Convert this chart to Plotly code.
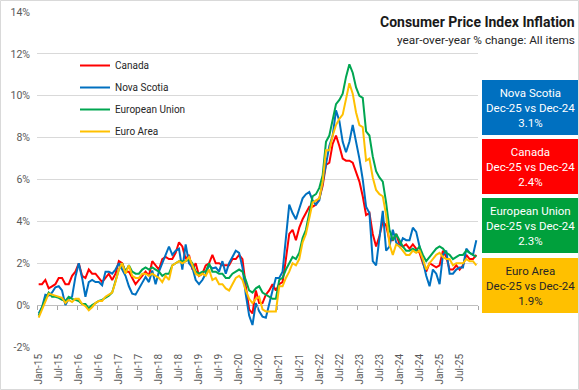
import pandas as pd
import plotly.graph_objects as go

# ---------------- data ----------------
months = pd.date_range("2015-01-01", periods=132, freq="MS").strftime("%b-%y").tolist()

canada = [
    1.0, 1.0, 1.2, 0.8, 0.9, 1.0, 1.3, 1.3, 1.0, 1.0, 1.4, 1.6,
    2.0, 1.4, 1.3, 1.7, 1.5, 1.5, 1.3, 1.1, 1.3, 1.5, 1.2, 1.5,
    2.1, 2.0, 1.6, 1.6, 1.3, 1.0, 1.2, 1.4, 1.6, 1.4, 2.1, 1.9,
    1.7, 2.2, 2.3, 2.2, 2.2, 2.5, 3.0, 2.8, 2.2, 2.4, 1.7, 2.0,
    1.4, 1.5, 1.9, 2.0, 2.4, 2.0, 2.0, 1.9, 1.9, 1.9, 2.2, 2.2,
    2.4, 2.2, 0.9, -0.2, -0.4, 0.7, 0.1, 0.1, 0.5, 0.7, 1.0, 0.7,
    1.0, 1.1, 2.2, 3.4, 3.6, 3.1, 3.7, 4.1, 4.4, 4.7, 4.7, 4.8,
    5.1, 5.7, 6.7, 6.8, 7.7, 8.1, 7.6, 7.0, 6.9, 6.9, 6.8, 6.3,
    5.9, 5.2, 4.3, 4.4, 3.4, 2.8, 3.3, 4.0, 3.8, 3.1, 3.1, 3.4,
    2.9, 2.8, 2.9, 2.7, 2.9, 2.7, 2.5, 2.0, 1.6, 2.0, 1.9, 1.8,
    1.9, 2.6, 2.3, 1.7, 1.7, 1.9, 1.7, 1.9, 2.4, 2.2, 2.2, 2.4,
]

nova_scotia = [
    -0.4, -0.1, 0.5, 0.45, 0.6, 0.85, 0.9, 0.7, 0.0, 0.3, 0.4, 1.35,
    2.0, 1.3, 0.4, 1.1, 1.2, 1.1, 1.1, 0.95, 1.6, 1.6, 1.5, 1.7,
    2.0, 1.7, 1.4, 0.9, 0.55, 0.5, 0.8, 1.1, 1.35, 1.1, 1.65, 1.0,
    1.6, 2.0, 2.4, 2.8, 2.4, 2.6, 2.7, 1.7, 2.9, 2.0, 1.8, 1.2,
    1.0, 1.2, 1.5, 1.9, 1.75, 1.8, 1.6, 2.1, 1.5, 2.0, 2.3, 2.6,
    2.5, 1.8, 0.5, -0.5, -0.95, 0.1, -0.3, -0.55, -0.6, 0.1, 0.7, 1.3,
    1.3, 1.6, 3.3, 4.8, 4.4, 4.1, 4.6, 5.1, 5.3, 5.4, 5.0, 4.8,
    5.0, 5.9, 6.8, 7.6, 8.1, 9.3, 8.8, 7.8, 7.3, 7.8, 8.6, 7.8,
    7.0, 6.0, 4.7, 4.4, 2.1, 1.9, 3.3, 4.5, 2.6, 2.8, 3.6, 3.0,
    2.8, 3.2, 3.1, 3.1, 3.7, 3.5, 2.8, 2.1, 1.4, 0.9, 1.7, 1.5,
    1.0, 2.4, 2.6, 1.5, 1.5, 1.7, 1.8, 1.8, 2.7, 2.5, 2.4, 3.1,
]

european_union = [
    -0.5, -0.1, 0.3, 0.6, 0.4, 0.4, 0.35, 0.25, 0.2, 0.4, 0.3, 0.25,
    0.2, 0.05, 0.05, -0.15, 0.0, 0.1, 0.2, 0.25, 0.35, 0.45, 0.6, 1.1,
    1.7, 2.0, 1.6, 1.9, 1.6, 1.5, 1.5, 1.7, 1.8, 1.7, 1.8, 1.7,
    1.6, 1.4, 1.5, 1.5, 1.9, 2.0, 2.1, 2.1, 2.1, 2.2, 2.0, 1.6,
    1.5, 1.6, 1.6, 2.0, 1.6, 1.6, 1.5, 1.5, 1.3, 1.3, 1.5, 1.6,
    1.7, 1.6, 1.2, 0.7, 0.6, 0.8, 0.9, 0.6, 0.5, 0.4, 0.3, 0.3,
    1.2, 1.3, 1.7, 2.0, 2.3, 2.2, 2.5, 3.2, 3.6, 4.4, 5.2, 5.3,
    5.6, 6.2, 7.8, 8.1, 8.8, 9.6, 9.8, 10.1, 10.9, 11.5, 11.1, 10.4,
    10.0, 9.9, 8.3, 8.1, 7.1, 6.4, 6.1, 5.9, 4.9, 3.6, 3.1, 3.4,
    3.1, 2.8, 2.6, 2.6, 2.7, 2.6, 2.8, 2.4, 2.1, 2.3, 2.5, 2.7,
    2.8, 2.7, 2.5, 2.4, 2.2, 2.3, 2.4, 2.4, 2.6, 2.5, 2.4, 2.3,
]

euro_area = [
    -0.6, -0.2, 0.2, 0.55, 0.5, 0.45, 0.4, 0.35, 0.1, 0.25, 0.15, 0.3,
    0.3, 0.05, -0.05, -0.25, -0.1, 0.1, 0.2, 0.2, 0.4, 0.5, 0.6, 1.1,
    1.7, 2.0, 1.5, 1.9, 1.4, 1.3, 1.3, 1.5, 1.5, 1.4, 1.5, 1.4,
    1.3, 1.1, 1.4, 1.2, 1.9, 2.0, 2.1, 2.0, 2.1, 2.3, 1.9, 1.5,
    1.4, 1.5, 1.4, 1.7, 1.2, 1.3, 1.0, 1.0, 0.8, 0.7, 1.0, 1.3,
    1.4, 1.2, 0.7, 0.3, 0.1, 0.3, 0.4, -0.2, -0.3, -0.3, -0.3, -0.3,
    0.9, 0.9, 1.3, 1.6, 2.0, 1.9, 2.2, 3.0, 3.4, 4.1, 4.9, 5.0,
    5.1, 5.9, 7.4, 7.4, 8.1, 8.6, 8.9, 9.1, 9.9, 10.6, 10.1, 9.2,
    8.6, 8.5, 6.9, 7.0, 6.1, 5.5, 5.3, 5.2, 4.3, 2.9, 2.4, 2.9,
    2.8, 2.6, 2.4, 2.4, 2.6, 2.5, 2.6, 2.2, 1.7, 2.0, 2.2, 2.4,
    2.5, 2.3, 2.2, 2.2, 1.9, 2.0, 2.0, 2.0, 2.2, 2.1, 2.1, 1.9,
]

tick_labels = ["Jan-15", "Jul-15", "Jan-16", "Jul-16", "Jan-17", "Jul-17",
               "Jan-18", "Jul-18", "Jan-19", "Jul-19", "Jan-20", "Jul-20",
               "Jan-21", "Jul-21", "Jan-22", "Jul-22", "Jan-23", "Jul-23",
               "Jan-24", "Jul-24", "Jan-25", "Jul-25"]
y_ticks = [-2, 0, 2, 4, 6, 8, 10, 12, 14]

series_names = ["Canada", "Nova Scotia", "European Union", "Euro Area"]
series_values = [canada, nova_scotia, european_union, euro_area]
line_colors = ["#FF0000", "#0070C0", "#00A651", "#FFC000"]
box_order = ["Nova Scotia", "Canada", "European Union", "Euro Area"]
box_colors = {"Nova Scotia": "#0070C0", "Canada": "#FF0000",
              "European Union": "#00A03C", "Euro Area": "#FFC000"}
box_text_colors = {"Nova Scotia": "white", "Canada": "white",
                   "European Union": "white", "Euro Area": "#262626"}
compare_label = "Dec-25 vs Dec-24"

# ---------------- layout geometry ----------------
W, H = 579, 390
L, R, T, B = 37, 478, 12, 347
PW, PH = R - L, B - T


def px(xp):
    return (xp - L) / PW


def py(yp):
    return (B - yp) / PH


FONT = "Roboto, Arial, sans-serif"
fig = go.Figure()

for i, (name, vals, col) in enumerate(zip(series_names, series_values, line_colors)):
    fig.add_trace(go.Scatter(
        x=months, y=vals, name=name, mode="lines",
        line=dict(color=col, width=2), legendgroup=f"g{i}",
    ))

# invisible helper trace for the boundary-tick axis
n = len(months)
fig.add_trace(go.Scatter(x=[0], y=[0], xaxis="x2", mode="markers",
                         marker=dict(opacity=0), showlegend=False, hoverinfo="skip"))

boundary_ticks = [k - 0.5 for k in range(0, n + 1, 6)]

fig.update_layout(
    width=W, height=H,
    margin=dict(l=L, r=W - R, t=T, b=H - B, autoexpand=False),
    paper_bgcolor="white", plot_bgcolor="white",
    font=dict(family=FONT, color="#595959", size=10),
    showlegend=True,
    legend=dict(x=px(75), y=py(51), xanchor="left", yanchor="top",
                bgcolor="rgba(0,0,0,0)", tracegroupgap=3,
                font=dict(size=10, color="#262626", family=FONT)),
    xaxis=dict(type="category", categoryorder="array", categoryarray=months,
               range=[-0.5, n - 0.5], tickmode="array", tickvals=months[::6],
               ticktext=tick_labels, tickangle=-90, showgrid=False,
               showline=False, ticks="", ticklabelstandoff=4,
               tickfont=dict(size=10, color="#595959"),
               zeroline=False, automargin=False),
    xaxis2=dict(overlaying="x", anchor="free", position=2 / 16, side="bottom",
                range=[-0.5, n - 0.5], tickmode="array", tickvals=boundary_ticks,
                ticks="outside", ticklen=4, tickcolor="#A6A6A6", tickwidth=1,
                showticklabels=False, showgrid=False, showline=False,
                zeroline=False, automargin=False),
    yaxis=dict(range=[-2, 14], tickmode="array", tickvals=y_ticks,
               ticktext=[f"{v}%" for v in y_ticks],
               showgrid=True, gridcolor="#D9D9D9", gridwidth=1,
               zeroline=True, zerolinecolor="#BFBFBF", zerolinewidth=1,
               showline=False, ticks="", ticklabelstandoff=6, automargin=False,
               tickfont=dict(size=10.5, color="#595959")),
)

annotations = [
    dict(text="<b>Consumer Price Index Inflation</b>", xref="paper", yref="paper",
         x=px(577), y=py(22), xanchor="right", yanchor="middle", showarrow=False,
         font=dict(size=14, color="#1a1a1a", family=FONT)),
    dict(text="year-over-year % change: All items", xref="paper", yref="paper",
         x=px(577), y=py(40), xanchor="right", yanchor="middle", showarrow=False,
         font=dict(size=11.8, color="#262626", family=FONT)),
]
shapes = [
    dict(type="rect", xref="paper", yref="paper", x0=px(0.5), x1=px(W - 0.5),
         y0=py(H - 0.5), y1=py(0.5), line=dict(color="#D9D9D9", width=1),
         fillcolor="rgba(0,0,0,0)", layer="below"),
]

box_tops = [80, 139, 198, 258]
box_h = 55
last_values = dict(zip(series_names, [v[-1] for v in series_values]))
for name, top in zip(box_order, box_tops):
    shapes.append(dict(type="rect", xref="paper", yref="paper",
                       x0=px(482), x1=px(578), y0=py(top + box_h), y1=py(top),
                       fillcolor=box_colors[name], line=dict(width=0)))
    annotations.append(dict(
        text=f"{name}<br>{compare_label}<br>{last_values[name]:.1f}%",
        xref="paper", yref="paper", x=px(530), y=py(top + box_h / 2),
        xanchor="center", yanchor="middle", showarrow=False, align="center",
        font=dict(size=11.5, color=box_text_colors[name], family=FONT)))

fig.update_layout(annotations=annotations, shapes=shapes)
fig.write_html("out.html", config={"displayModeBar": False},
               post_script="document.body.style.margin='0px';document.body.style.padding='0px';")
